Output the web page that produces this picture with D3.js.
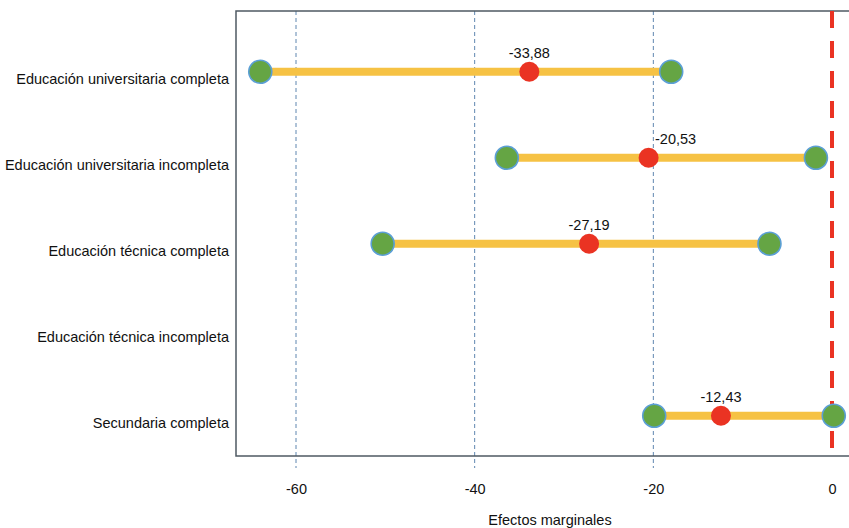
<!DOCTYPE html>
<html>
<head>
<meta charset="utf-8">
<script src="https://cdn.jsdelivr.net/npm/d3@7"></script>
<style>
  body { margin: 0; background: #fff; }
  svg { display: block; font-family: "Liberation Sans", Arial, Helvetica, sans-serif; }
</style>
</head>
<body>
<svg id="chart" width="849" height="528"></svg>
<script>
const categories = [
  'Educación universitaria completa',
  'Educación universitaria incompleta',
  'Educación técnica completa',
  'Educación técnica incompleta',
  'Secundaria completa'
];
const estimates = [-33.88, -20.53, -27.19, null, -12.43];
const lowerBounds = [-64.0, -36.4, -50.3, null, -19.9];
const upperBounds = [-18.0, -1.8, -7.0, null, 0.2];
const xTicks = [-60, -40, -20, 0];
const axisTitle = 'Efectos marginales';

// labels that were nudged sideways in the original
const labelShift = { 'Educación universitaria incompleta': 27 };

const svg = d3.select('svg#chart'),
  width = 849,
  height = 528;

const plotLeft = 236,
  plotRight = 864,
  plotTop = 11,
  plotBottom = 456,
  fontSize = 14.5,
  gridColor = '#5f86b0',
  frameColor = '#4f5a63',
  rangeColor = '#f6c244',
  endColor = '#65a544',
  endStroke = '#5b9fd6',
  estColor = '#ea3323',
  zeroColor = '#ea3323';

// hyphen instead of the unicode minus d3 uses
const fmtTick = d => String(d);
const fmtEst = d => d.toFixed(2).replace('.', ',');

const x = d3.scaleLinear().domain([-60, 0]).range([296, 832]);
const y = d3.scalePoint().domain(categories).range([71.7, 415.7]);

const rows = categories.map((c, i) => ({
  cat: c,
  est: estimates[i],
  lo: lowerBounds[i],
  hi: upperBounds[i]
})).filter(d => d.est !== null);

drawGrid();
drawFrame();
drawZeroLine();
drawRanges();
drawAxes();

function drawGrid() {
  svg.append('g')
    .selectAll('line')
    .data(xTicks.filter(t => t !== 0))
    .join('line')
    .attr('x1', d => x(d))
    .attr('x2', d => x(d))
    .attr('y1', plotTop)
    .attr('y2', plotBottom + 12)
    .attr('stroke', gridColor)
    .attr('stroke-width', 1)
    .attr('stroke-dasharray', '4,3');
}

function drawFrame() {
  svg.append('path')
    .attr('d', `M${width},${plotTop}H${plotLeft}V${plotBottom}H${width}`)
    .attr('fill', 'none')
    .attr('stroke', frameColor)
    .attr('stroke-width', 1.5);
}

function drawZeroLine() {
  svg.append('line')
    .attr('x1', x(0))
    .attr('x2', x(0))
    .attr('y1', plotTop)
    .attr('y2', plotBottom - 6)
    .attr('stroke', zeroColor)
    .attr('stroke-width', 4)
    .attr('stroke-dasharray', '17,13');
}

function drawRanges() {
  const g = svg.append('g');

  g.selectAll('line.range')
    .data(rows)
    .join('line')
    .attr('class', 'range')
    .attr('x1', d => x(d.lo))
    .attr('x2', d => x(d.hi))
    .attr('y1', d => y(d.cat))
    .attr('y2', d => y(d.cat))
    .attr('stroke', rangeColor)
    .attr('stroke-width', 8);

  const ends = rows.flatMap(d => [{ cat: d.cat, v: d.lo }, { cat: d.cat, v: d.hi }]);
  g.selectAll('circle.end')
    .data(ends)
    .join('circle')
    .attr('class', 'end')
    .attr('cx', d => x(d.v))
    .attr('cy', d => y(d.cat))
    .attr('r', 11.5)
    .attr('fill', endColor)
    .attr('stroke', endStroke)
    .attr('stroke-width', 1.6);

  g.selectAll('circle.est')
    .data(rows)
    .join('circle')
    .attr('class', 'est')
    .attr('cx', d => x(d.est))
    .attr('cy', d => y(d.cat))
    .attr('r', 10)
    .attr('fill', estColor);

  g.selectAll('text.est-label')
    .data(rows)
    .join('text')
    .attr('class', 'est-label')
    .attr('x', d => x(d.est) + (labelShift[d.cat] || 0))
    .attr('y', d => y(d.cat) - 14)
    .attr('text-anchor', 'middle')
    .attr('font-size', fontSize)
    .attr('fill', '#111')
    .text(d => fmtEst(d.est));
}

function drawAxes() {
  const yAxis = svg.append('g')
    .attr('transform', `translate(${plotLeft - 7},0)`)
    .call(d3.axisLeft(y).tickSize(0).tickPadding(0));
  yAxis.select('.domain').remove();
  yAxis.selectAll('text')
    .attr('dy', '0.32em')
    .attr('y', 7)
    .attr('font-size', fontSize)
    .attr('font-family', '"Liberation Sans", Arial, sans-serif')
    .attr('fill', '#111');

  const xAxis = svg.append('g')
    .attr('transform', `translate(0,${plotBottom})`)
    .call(d3.axisBottom(x).tickValues(xTicks).tickFormat(fmtTick).tickSize(0).tickPadding(0));
  xAxis.select('.domain').remove();
  xAxis.selectAll('text')
    .attr('y', 38)
    .attr('dy', 0)
    .attr('font-size', fontSize)
    .attr('font-family', '"Liberation Sans", Arial, sans-serif')
    .attr('fill', '#111');

  svg.append('text')
    .attr('x', (plotLeft + plotRight) / 2)
    .attr('y', 525)
    .attr('text-anchor', 'middle')
    .attr('font-size', fontSize)
    .attr('fill', '#111')
    .text(axisTitle);
}
</script>
</body>
</html>
